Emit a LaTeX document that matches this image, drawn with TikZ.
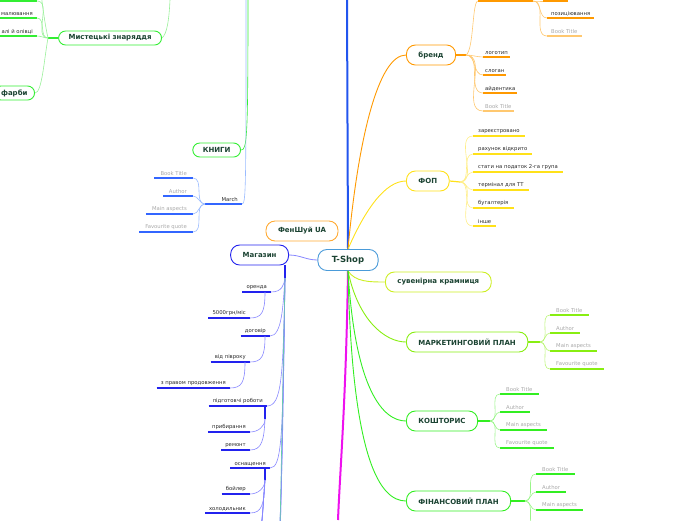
\documentclass[tikz,border=0pt]{standalone}
\usepackage{fontspec}
\setmainfont{DejaVu Sans}
\usetikzlibrary{positioning}

\definecolor{tshopblue}{HTML}{4A9BD9}
\definecolor{topictext}{HTML}{1B4332}
\definecolor{leaftext}{HTML}{2A2A2A}
\definecolor{greytext}{HTML}{A8A8A8}
\definecolor{brorange}{HTML}{FF9900}
\definecolor{brorangel}{HTML}{FFC870}
\definecolor{fopyellow}{HTML}{FFE119}
\definecolor{fopyellowl}{HTML}{FFEE88}
\definecolor{suvgreen}{HTML}{CCEE22}
\definecolor{mklime}{HTML}{88EE11}
\definecolor{mklimel}{HTML}{BBF577}
\definecolor{kgreen}{HTML}{33EE22}
\definecolor{kgreenl}{HTML}{99F588}
\definecolor{mainblue}{HTML}{2255EE}
\definecolor{mblue}{HTML}{2222EE}
\definecolor{mbluel}{HTML}{8888FF}
\definecolor{bookblue}{HTML}{3366FF}
\definecolor{bookbluel}{HTML}{99BBFF}
\definecolor{magentaline}{HTML}{EE11EE}
\definecolor{fsorange}{HTML}{FFAA33}
\definecolor{artgreen}{HTML}{33EE33}
\definecolor{artgreenl}{HTML}{99F099}
\definecolor{tealline}{HTML}{66CCAA}

\tikzset{
  topic/.style={draw, rounded corners=9pt, line width=0.9pt, fill=white, text=topictext,
    font=\bfseries\fontsize{7}{8}\selectfont, minimum height=20pt, inner xsep=12pt},
  smalltopic/.style={topic, rounded corners=7pt, minimum height=14pt, inner xsep=10pt},
  leaf/.style={font=\fontsize{5.3}{6}\selectfont, text=leaftext, inner xsep=4pt, inner ysep=2pt},
  greyleaf/.style={leaf, text=greytext, inner xsep=6pt},
  uline/.style={line width=1.2pt},
  cline/.style={line width=0.6pt},
}

\begin{document}
\begin{tikzpicture}[x=1pt,y=-1pt]
  \useasboundingbox (0,0) rectangle (696,520);
  \clip (0,0) rectangle (696,520);

  % centre and main topics
  \node[topic, draw=tshopblue, font=\bfseries\fontsize{8.5}{9}\selectfont, inner xsep=14pt,
    minimum height=21pt] (tshop) at (348,260) {T-Shop};
  \node[topic, draw=brorange, anchor=west] (brand) at (406,55) {бренд};
  \node[topic, draw=fopyellow, anchor=west] (fop) at (406,181) {ФОП};
  \node[topic, draw=suvgreen, anchor=west] (suv) at (385,282) {сувенірна крамниця};
  \node[topic, draw=mklime, anchor=west] (mark) at (406,342) {МАРКЕТИНГОВИЙ ПЛАН};
  \node[topic, draw=kgreen, anchor=west] (kosht) at (406,421) {КОШТОРИС};
  \node[topic, draw=kgreen, anchor=west] (fin) at (406,501) {ФІНАНСОВИЙ ПЛАН};
  \node[topic, draw=mblue, anchor=east] (mag) at (289,255) {Магазин};
  \node[topic, draw=fsorange] (fsh) at (302,231) {ФенШуй UA};
  \node[smalltopic, draw=artgreen, anchor=east] (knyhy) at (241,150) {КНИГИ};
  \node[smalltopic, draw=artgreen, anchor=east] (mz) at (162,38) {Мистецькі знаряддя};
  \node[smalltopic, draw=artgreen, anchor=east, inner xsep=7pt] (farby) at (35,93) {фарби};

  \coordinate (top) at (347,0);
  \coordinate (bottom) at (338,520);
  \draw[mainblue, line width=2pt] (tshop.north) -- (top);
  \draw[magentaline, line width=2pt] (tshop.south) .. controls (346,400) and (340,470) .. (bottom);
  \draw[brorange, line width=0.9pt] (tshop.north) .. controls (358,140) and (378,55) .. (brand.west);
  \draw[fopyellow, line width=0.9pt] (tshop.north) .. controls (365,210) and (385,181) .. (fop.west);
  \draw[suvgreen, line width=0.9pt] (tshop.south) .. controls (355,282) and (370,282) .. (suv.west);
  \draw[mklime, line width=0.9pt] (tshop.south) .. controls (358,320) and (385,342) .. (mark.west);
  \draw[kgreen, line width=0.9pt] (tshop.south) .. controls (355,390) and (383,421) .. (kosht.west);
  \draw[kgreen, line width=0.9pt] (tshop.south) .. controls (352,460) and (380,501) .. (fin.west);
  \draw[mbluel, line width=0.8pt] (tshop.west) to[out=180,in=0] (mag.east);

  % бренд
  \coordinate (brj) at (466,55);
  \draw[brorange, uline] (brand.east) -- (brj);
  \foreach \t/\y [count=\i] in {логотип/57,слоган/75,айдентика/93} {
    \node[leaf, anchor=south west, inner xsep=2pt] (br\i) at (483,\y) {\t};
    \draw[brorange, uline] (br\i.south west) -- (br\i.south east);
    \draw[brorangel, cline] (brj) to[out=0,in=180] (br\i.south west);
  }
  \node[greyleaf, anchor=south west, inner xsep=2pt] (br4) at (483,111) {Book Title};
  \draw[brorangel, uline] (br4.south west) -- (br4.south east);
  \draw[brorangel, cline] (brj) to[out=0,in=180] (br4.south west);
  \coordinate (brtop) at (478,1);
  \coordinate (brtopr) at (533,1);
  \coordinate (pz0) at (543,1);
  \coordinate (pz0r) at (568,1);
  \draw[brorange, uline] (brtop) -- (brtopr);
  \draw[brorangel, cline] (brj) .. controls (474,50) and (472,1) .. (brtop);
  \draw[brorange, uline] (pz0) -- (pz0r);
  \draw[brorangel, cline] (brtopr) to[out=0,in=180] (pz0);
  \node[leaf, anchor=south west] (pz1) at (547,18) {позиціювання};
  \node[greyleaf, anchor=south west, inner xsep=4pt] (pz2) at (547,36) {Book Title};
  \draw[brorange, uline] (pz1.south west) -- (pz1.south east);
  \draw[brorangel, uline] (pz2.south west) -- (pz2.south east);
  \draw[brorangel, cline] (brtopr) to[out=0,in=180] (pz1.south west);
  \draw[brorangel, cline] (brtopr) to[out=0,in=180] (pz2.south west);

  % ФОП
  \coordinate (fopj) at (460,182);
  \draw[fopyellow, uline] (fop.east) -- (fopj);
  \foreach \t [count=\i] in {зареєстровано,рахунок відкрито,стати на податок 2-га група,термінал для ТТ,бугалтерія,інше} {
    \node[leaf, anchor=south west, inner xsep=5pt] (fop\i) at (473,118+18*\i) {\t};
    \draw[fopyellow, uline] (fop\i.south west) -- (fop\i.south east);
    \draw[fopyellowl, cline] (fopj) to[out=0,in=180] (fop\i.south west);
  }

  % МАРКЕТИНГОВИЙ ПЛАН, КОШТОРИС, ФІНАНСОВИЙ ПЛАН
  \coordinate (mkj) at (540,342);
  \coordinate (kj) at (490,421);
  \coordinate (fj) at (525,501);
  \draw[mklime, uline] (mark.east) -- (mkj);
  \draw[kgreen, uline] (kosht.east) -- (kj);
  \draw[kgreen, uline] (fin.east) -- (fj);
  \foreach \t [count=\i] in {Book Title,Author,Main aspects,Favourite quote} {
    \node[greyleaf, anchor=south west] (mk\i) at (550,297+18*\i) {\t};
    \draw[mklime, uline] (mk\i.south west) -- (mk\i.south east);
    \draw[mklimel, cline] (mkj) to[out=0,in=180] (mk\i.south west);
    \node[greyleaf, anchor=south west] (ko\i) at (500,376+18*\i) {\t};
    \draw[kgreen, uline] (ko\i.south west) -- (ko\i.south east);
    \draw[kgreenl, cline] (kj) to[out=0,in=180] (ko\i.south west);
  }
  \foreach \t [count=\i] in {Book Title,Author,Main aspects} {
    \node[greyleaf, anchor=south west] (fi\i) at (536,456+18*\i) {\t};
    \draw[kgreen, uline] (fi\i.south west) -- (fi\i.south east);
    \draw[kgreenl, cline] (fj) to[out=0,in=180] (fi\i.south west);
  }
  \coordinate (fi4) at (536,528);
  \draw[kgreenl, cline] (fj) to[out=0,in=180] (fi4);

  % КНИГИ and March
  \coordinate (ktop) at (248,0);
  \coordinate (btop) at (246,0);
  \draw[artgreen, cline] (knyhy.east) .. controls (247,150) and (248,140) .. (ktop);
  \node[leaf, anchor=south east] (march) at (242,204) {March};
  \coordinate (mrj) at (205,204);
  \draw[bookblue, uline] (mrj) -- (march.south east);
  \draw[bookbluel, cline] (march.south east) .. controls (246,204) and (246,190) .. (btop);
  \foreach \t [count=\i] in {Book Title,Author,Main aspects,Favourite quote} {
    \node[greyleaf, anchor=south east] (mr\i) at (193,160+18*\i) {\t};
    \draw[bookblue, uline] (mr\i.south west) -- (mr\i.south east);
    \draw[bookbluel, cline] (mrj) to[out=180,in=0] (mr\i.south east);
  }

  % Мистецькі знаряддя
  \coordinate (mzj) at (48,38);
  \coordinate (mztop) at (170,0);
  \draw[artgreenl, cline] (mz.east) .. controls (167,34) and (169,20) .. (mztop);
  \draw[artgreen, uline] (mzj) -- (mz.west);
  \node[leaf, anchor=south east] (malyuv) at (37,18) {малювання};
  \node[leaf, anchor=south east] (olivtsi) at (37,36) {алі й олівці};
  \coordinate (art0l) at (0,1);
  \coordinate (art0r) at (37,1);
  \coordinate (art00) at (40,-14);
  \draw[artgreen, uline] (art0l) -- (art0r);
  \draw[artgreen, uline] (malyuv.south west) -- (malyuv.south east);
  \draw[artgreen, uline] (olivtsi.south west) -- (olivtsi.south east);
  \draw[artgreenl, cline] (mzj) to[out=180,in=0] (art0r);
  \draw[artgreenl, cline] (mzj) .. controls (44,20) and (42,0) .. (art00);
  \draw[artgreenl, cline] (mzj) to[out=180,in=0] (malyuv.south east);
  \draw[artgreenl, cline] (mzj) to[out=180,in=0] (olivtsi.south east);
  \draw[artgreenl, cline] (mzj) .. controls (44,60) and (42,93) .. (farby.east);

  % Магазин
  \coordinate (mtop) at (285,265);
  \coordinate (mj) at (285,278);
  \draw[mblue, line width=1.6pt] (mtop) -- (mj);
  \node[leaf, anchor=south east] (orenda) at (271,292) {оренда};
  \node[leaf, anchor=south east] (k5000) at (250,318) {5000грн/міс};
  \node[leaf, anchor=south east] (dogovir) at (270,336) {договір};
  \node[leaf, anchor=south east] (pivroku) at (250,362) {від півроку};
  \node[leaf, anchor=south east] (prodov) at (230,388) {з правом продовження};
  \node[leaf, anchor=south east] (pidgot) at (267,406) {підготовчі роботи};
  \node[leaf, anchor=south east] (prybyr) at (250,432) {прибирання};
  \node[leaf, anchor=south east] (remont) at (250,450) {ремонт};
  \node[leaf, anchor=south east] (osnasch) at (270,468) {оснащення};
  \node[leaf, anchor=south east] (boiler) at (250,494) {бойлер};
  \node[leaf, anchor=south east] (holod) at (250,513) {холодильник};
  \foreach \n in {orenda,k5000,dogovir,pivroku,prodov,pidgot,prybyr,remont,osnasch,boiler,holod}
    \draw[mblue, uline] (\n.south west) -- (\n.south east);

  \coordinate (m1) at (272,560);
  \coordinate (m2) at (272,620);
  \coordinate (m3) at (272,680);
  \coordinate (m4) at (270,720);
  \draw[mbluel, cline] (mj) .. controls (284,285) and (282,292) .. (orenda.south east);
  \draw[mbluel, cline] (mj) .. controls (283,306) and (282,336) .. (dogovir.south east);
  \draw[mbluel, cline] (mj) .. controls (283,376) and (282,406) .. (pidgot.south east);
  \draw[mbluel, cline] (mj) .. controls (283,438) and (282,468) .. (osnasch.south east);
  \draw[mbluel, cline] (mj) .. controls (282,500) and (281,560) .. (m1);
  \draw[mbluel, cline] (mj) .. controls (281,520) and (280,620) .. (m2);
  \draw[mbluel, cline] (mj) .. controls (280,540) and (279,680) .. (m3);
  \draw[tealline, cline] (mj) .. controls (279,560) and (278,720) .. (m4);

  \coordinate (orj) at (265,292);
  \coordinate (dgj) at (265,336);
  \coordinate (pvj) at (245,362);
  \coordinate (pgj) at (265,406);
  \coordinate (pgj2) at (265,419);
  \coordinate (osj) at (265,468);
  \coordinate (osj2) at (265,480);
  \draw[mbluel, cline] (orj) .. controls (265,312) and (262,318) .. (k5000.south east);
  \draw[mbluel, cline] (dgj) .. controls (265,356) and (262,362) .. (pivroku.south east);
  \draw[mbluel, cline] (pvj) .. controls (245,382) and (242,388) .. (prodov.south east);
  \draw[mblue, line width=1.6pt] (pgj) -- (pgj2);
  \draw[mbluel, cline] (pgj2) to[out=-90,in=0] (prybyr.south east);
  \draw[mbluel, cline] (pgj2) .. controls (264,440) and (262,450) .. (remont.south east);
  \draw[mblue, line width=1.6pt] (osj) -- (osj2);
  \draw[mbluel, cline] (osj2) to[out=-90,in=0] (boiler.south east);
  \draw[mbluel, cline] (osj2) .. controls (264,505) and (262,513) .. (holod.south east);
  \foreach \y [count=\i] in {531,549,567,585}
    \coordinate (os\i) at (250,\y);
  \foreach \i in {1,...,4}
    \draw[mbluel, cline] (osj2) .. controls (263,500) and (262,560) .. (os\i);
\end{tikzpicture}
\end{document}
